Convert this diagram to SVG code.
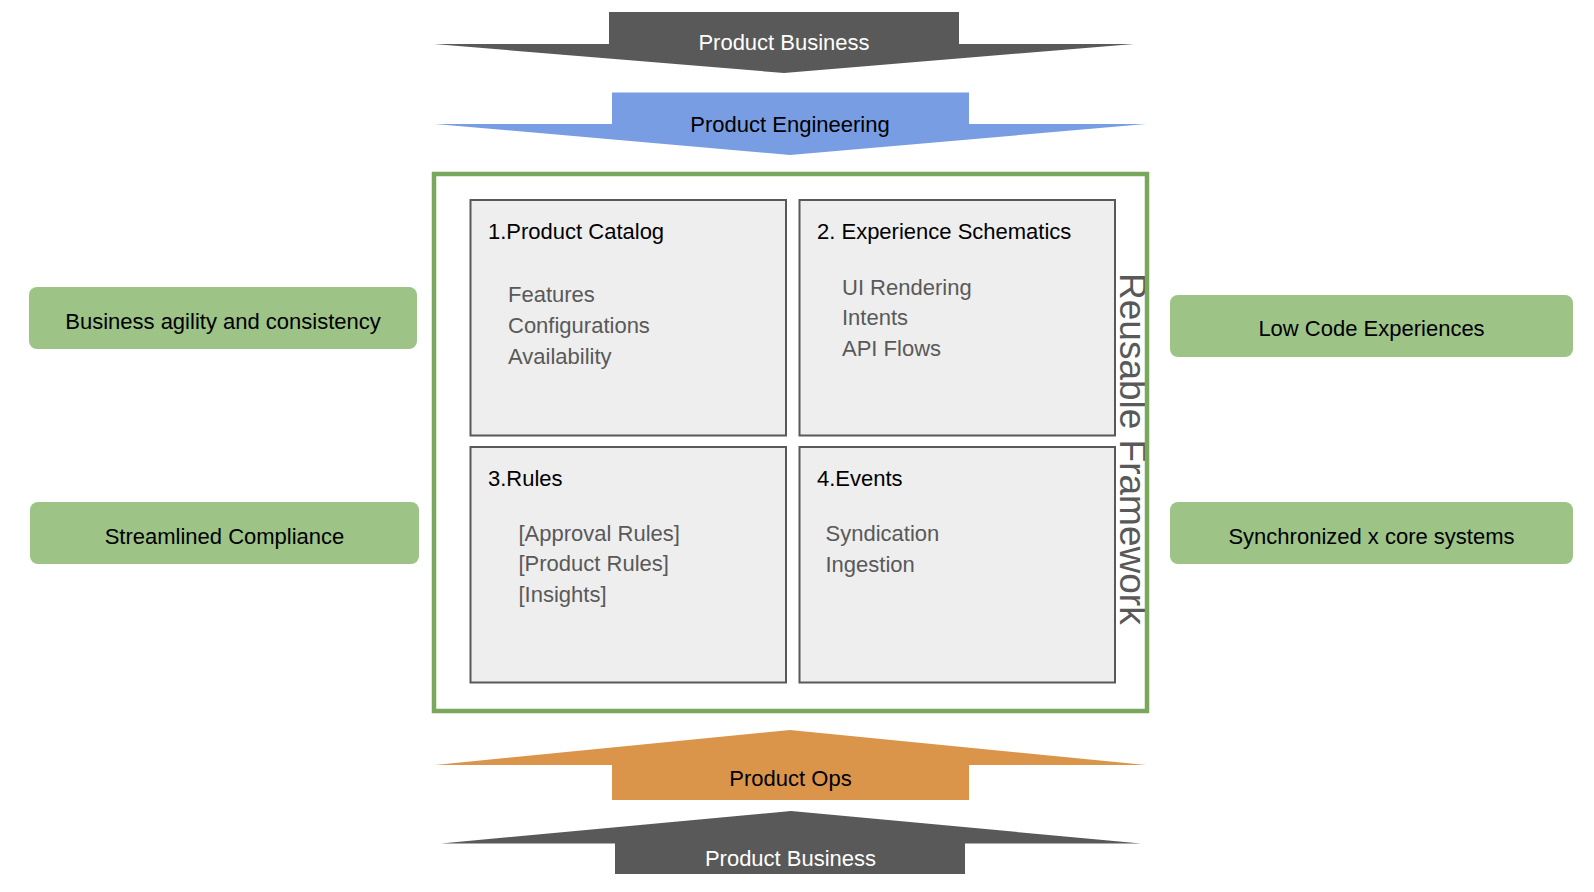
<svg xmlns="http://www.w3.org/2000/svg" width="1594" height="892" viewBox="0 0 1594 892">
<style>
text{font-family:"Liberation Sans",Arial,sans-serif;font-size:22px}
.c{text-anchor:middle}
.w{fill:#ffffff}
.k{fill:#000000}
.g{fill:#595959}
.side{fill:#9dc386}
.cell{fill:#eeeeee;stroke:#595959;stroke-width:2}
</style>
<rect width="1594" height="892" fill="#ffffff"/>
<g id="arrow-top-business">
<polygon points="609,12 959,12 959,44 1134,44 784,73 434,44 609,44" fill="#595959"/>
<text class="c w" x="784" y="50">Product Business</text>
</g>
<g id="arrow-engineering">
<polygon points="612,92.5 969,92.5 969,124 1146,124 790,155 435,124 612,124" fill="#789de3"/>
<text class="c k" x="790" y="131.5">Product Engineering</text>
</g>
<g id="arrow-ops">
<polygon points="790,730 1146,765 969,765 969,800 612,800 612,765 435,765" fill="#da954b"/>
<text class="c k" x="790.5" y="786">Product Ops</text>
</g>
<g id="arrow-bottom-business">
<polygon points="791,811 1141,843.5 965,843.5 965,874 615,874 615,843.5 441,843.5" fill="#595959"/>
<text class="c w" x="790.5" y="866">Product Business</text>
</g>
<g id="framework">
<text class="g" transform="translate(1120,273) rotate(90)" style="font-size:37px">Reusable Framework</text>
<rect x="434" y="174" width="713" height="537" fill="none" stroke="#79a85c" stroke-width="4.5"/>
</g>
<g id="product-catalog">
<rect class="cell" x="470.5" y="200" width="315.5" height="235.5"/>
<text class="k" x="488" y="239">1.Product Catalog</text>
<text class="g" x="508" y="302">Features</text>
<text class="g" x="508" y="333">Configurations</text>
<text class="g" x="508" y="364">Availability</text>
</g>
<g id="experience-schematics">
<rect class="cell" x="799.5" y="200" width="315.5" height="235.5"/>
<text class="k" x="817" y="239">2. Experience Schematics</text>
<text class="g" x="842" y="294.5">UI Rendering</text>
<text class="g" x="842" y="325">Intents</text>
<text class="g" x="842" y="356">API Flows</text>
</g>
<g id="rules">
<rect class="cell" x="470.5" y="447" width="315.5" height="235.5"/>
<text class="k" x="488" y="485.5">3.Rules</text>
<text class="g" x="518.5" y="540.5">[Approval Rules]</text>
<text class="g" x="518.5" y="571">[Product Rules]</text>
<text class="g" x="518.5" y="602">[Insights]</text>
</g>
<g id="events">
<rect class="cell" x="799.5" y="447" width="315.5" height="235.5"/>
<text class="k" x="817" y="485.5">4.Events</text>
<text class="g" x="825.5" y="540.5">Syndication</text>
<text class="g" x="825.5" y="571.5">Ingestion</text>
</g>
<g id="business-agility">
<rect class="side" x="29" y="287" width="388" height="62" rx="8"/>
<text class="c k" x="223" y="329">Business agility and consistency</text>
</g>
<g id="streamlined-compliance">
<rect class="side" x="30" y="502" width="389" height="62" rx="8"/>
<text class="c k" x="224.5" y="544">Streamlined Compliance</text>
</g>
<g id="low-code">
<rect class="side" x="1170" y="295" width="403" height="62" rx="8"/>
<text class="c k" x="1371.5" y="336">Low Code Experiences</text>
</g>
<g id="synchronized">
<rect class="side" x="1170" y="502" width="403" height="62" rx="8"/>
<text class="c k" x="1371.5" y="544">Synchronized x core systems</text>
</g>
<g id="connectors"></g>
</svg>
